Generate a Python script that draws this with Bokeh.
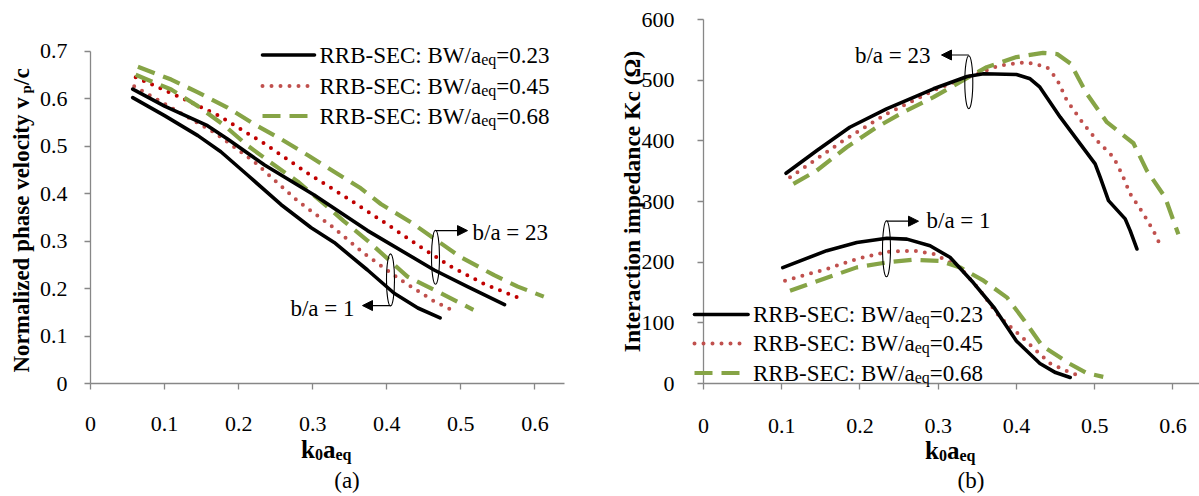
import numpy as np
from bokeh.plotting import figure
from bokeh.models import Label, Arrow, NormalHead, FixedTicker, NumeralTickFormatter, Range1d
from bokeh.layouts import row, column
from bokeh.embed import file_html
from bokeh.resources import INLINE

# ---------------- data: (a) normalized phase velocity ----------------
a_x_bw023_b23 = [0.057, 0.100, 0.158, 0.185, 0.235, 0.302, 0.374, 0.464, 0.509, 0.559]
a_y_bw023_b23 = [0.620, 0.584, 0.543, 0.515, 0.460, 0.397, 0.322, 0.239, 0.204, 0.166]
a_x_bw023_b1 = [0.057, 0.100, 0.145, 0.176, 0.212, 0.257, 0.298, 0.329, 0.374, 0.410, 0.442, 0.472]
a_y_bw023_b1 = [0.602, 0.564, 0.522, 0.488, 0.439, 0.377, 0.328, 0.297, 0.239, 0.190, 0.159, 0.138]
a_x_bw045_b23 = [0.061, 0.118, 0.172, 0.235, 0.295, 0.345, 0.397, 0.446, 0.487, 0.531, 0.577]
a_y_bw045_b23 = [0.645, 0.605, 0.565, 0.505, 0.441, 0.392, 0.339, 0.287, 0.246, 0.210, 0.181]
a_x_bw045_b1 = [0.059, 0.113, 0.167, 0.221, 0.280, 0.325, 0.370, 0.419, 0.464, 0.495]
a_y_bw045_b1 = [0.626, 0.577, 0.529, 0.467, 0.384, 0.332, 0.273, 0.218, 0.173, 0.149]
a_x_bw068_b23 = [0.064, 0.109, 0.145, 0.185, 0.221, 0.257, 0.293, 0.329, 0.365, 0.392, 0.433, 0.500, 0.545, 0.577, 0.612]
a_y_bw068_b23 = [0.667, 0.640, 0.613, 0.581, 0.546, 0.515, 0.481, 0.446, 0.411, 0.378, 0.339, 0.266, 0.228, 0.204, 0.183]
a_x_bw068_b1 = [0.061, 0.109, 0.145, 0.181, 0.212, 0.248, 0.280, 0.311, 0.342, 0.374, 0.428, 0.473, 0.517]
a_y_bw068_b1 = [0.650, 0.619, 0.584, 0.543, 0.501, 0.460, 0.425, 0.384, 0.342, 0.301, 0.225, 0.190, 0.155]

# ---------------- data: (b) interaction impedance ----------------
b_x_bw023_b23 = [0.1055, 0.145, 0.187, 0.234, 0.294, 0.337, 0.358, 0.400, 0.4175, 0.430, 0.456, 0.4815, 0.5006, 0.507, 0.5177, 0.539, 0.5454, 0.554]
b_y_bw023_b23 = [346.5, 384, 422.4, 452.8, 485.8, 506, 510.6, 509.4, 502.3, 488.4, 439, 395, 362, 340, 301.5, 271.3, 252, 221.8]
b_x_bw045_b23 = [0.1106, 0.179, 0.234, 0.294, 0.337, 0.379, 0.413, 0.439, 0.4517, 0.4645, 0.4857, 0.503, 0.524, 0.5348, 0.5454, 0.5624, 0.575, 0.5816]
b_y_bw045_b23 = [340, 400.5, 444.5, 483, 505, 524.3, 529.7, 521.5, 502, 466.5, 428, 400.5, 373, 345.5, 312.5, 279.5, 252, 234.3]
b_x_bw068_b23 = [0.1149, 0.1448, 0.183, 0.2215, 0.2555, 0.294, 0.3238, 0.362, 0.400, 0.434, 0.452, 0.469, 0.490, 0.5156, 0.5496, 0.5667, 0.590, 0.607]
b_y_bw068_b23 = [329, 351, 389.4, 422.4, 447.2, 472, 494, 521.5, 538, 545, 543, 527.6, 477.6, 430.7, 396, 351, 307, 246]
b_x_bw023_b1 = [0.1013, 0.1575, 0.196, 0.2343, 0.260, 0.2896, 0.315, 0.345, 0.372, 0.400, 0.430, 0.450, 0.4687]
b_y_bw023_b1 = [191, 219, 232.5, 239.5, 238, 227, 208, 166, 124, 70, 33, 18, 10]
b_x_bw045_b1 = [0.1042, 0.1575, 0.196, 0.2343, 0.268, 0.294, 0.328, 0.3536, 0.379, 0.404, 0.443, 0.470, 0.486]
b_y_bw045_b1 = [169.5, 188.8, 205.3, 217, 219, 213.5, 191.4, 153, 109, 80, 33, 17, 12]
b_x_bw068_b1 = [0.1106, 0.1532, 0.196, 0.2343, 0.268, 0.3025, 0.328, 0.358, 0.3877, 0.410, 0.433, 0.4675, 0.490, 0.511]
b_y_bw068_b1 = [153, 172.3, 191.4, 199.7, 204, 202, 191.4, 169.5, 142, 104, 62, 33, 17, 11]

# ---------------- labels / ticks ----------------
series_names = ["0.23", "0.45", "0.68"]
legend_prefix = "RRB-SEC: BW/a"
legend_sub = "eq"
x_ticks = [0, 0.1, 0.2, 0.3, 0.4, 0.5, 0.6]
a_y_ticks = [0, 0.1, 0.2, 0.3, 0.4, 0.5, 0.6, 0.7]
b_y_ticks = [0, 100, 200, 300, 400, 500, 600]
a_title = "Normalized phase velocity  v"
b_title = "Interaction impedance Kc (\u03a9)"

SERIF = "Liberation Serif"
AXIS_GRAY = "#878787"
BLACK = "#000000"
RED_A = "#C00000"
RED_B = "#C0504D"
GREEN = "#86A446"

solid = dict(line_color=BLACK, line_width=3.6, line_join="round", line_cap="round")
def dotted(c):
    return dict(line_color=c, line_width=4, line_dash="0 9", line_cap="round", line_join="round")
dashed = dict(line_color=GREEN, line_width=4.2, line_dash="18 9", line_cap="butt", line_join="round")


def make_fig(width, xr, yr, ybounds, ml, mr, mt, mb, yticks, yfmt, y_standoff, x_standoff):
    p = figure(width=width, height=496, x_range=Range1d(*xr), y_range=Range1d(*yr),
               output_backend="svg", toolbar_location=None,
               min_border_left=ml, min_border_right=mr, min_border_top=mt, min_border_bottom=mb)
    p.outline_line_color = None
    p.xgrid.visible = False
    p.ygrid.visible = False
    p.background_fill_color = "white"
    p.border_fill_color = "white"
    for ax in (p.xaxis[0], p.yaxis[0]):
        ax.axis_line_color = AXIS_GRAY
        ax.axis_line_width = 1.3
        ax.major_tick_line_color = AXIS_GRAY
        ax.major_tick_line_width = 1.3
        ax.major_tick_in = 0
        ax.major_tick_out = 6
        ax.minor_tick_line_color = None
        ax.major_label_text_font = SERIF
        ax.major_label_text_font_size = "22px"
        ax.major_label_text_color = "black"
    p.xaxis.ticker = FixedTicker(ticks=x_ticks)
    p.xaxis.formatter = NumeralTickFormatter(format="0.[0]")
    p.xaxis.major_label_standoff = x_standoff
    p.yaxis.ticker = FixedTicker(ticks=yticks)
    p.yaxis.formatter = NumeralTickFormatter(format=yfmt)
    p.yaxis.major_label_standoff = y_standoff
    p.yaxis.bounds = ybounds
    return p


def head_arrow(p, x0, y0, x1, y1):
    p.add_layout(Arrow(x_start=x0, y_start=y0, x_end=x1, y_end=y1, line_color="black", line_width=1.2,
                       end=NormalHead(size=10, fill_color="black", line_color="black")))


# ======================= figure (a) =======================
A_L, A_R, A_T, A_B = 90, 36, 19, 108
A_FH = 496 - A_T - A_B
A_YTOP = 0.7 * A_FH / 337.0
pa = make_fig(600, (0, 0.64), (0, A_YTOP), (0, 0.7), A_L, A_R, A_T, A_B, a_y_ticks, "0.[0]", 17, 27)
ax_ = lambda px: (px - A_L) / (600 - A_L - A_R) * 0.64
ay_ = lambda py: (496 - A_B - py) / A_FH * A_YTOP

pa.line(a_x_bw045_b23, a_y_bw045_b23, **dotted(RED_A))
pa.line(a_x_bw045_b1, a_y_bw045_b1, **dotted(RED_B))
pa.line(a_x_bw068_b23, a_y_bw068_b23, **dashed)
pa.line(a_x_bw068_b1, a_y_bw068_b1, **dashed)
pa.line(a_x_bw023_b23, a_y_bw023_b23, **solid)
pa.line(a_x_bw023_b1, a_y_bw023_b1, **solid)

pa.ellipse(x=[ax_(435), ax_(390)], y=[ay_(260), ay_(283)], width=8, height=[54, 52],
           width_units="screen", height_units="screen", fill_color=None, line_color="black", line_width=1.1)
head_arrow(pa, ax_(435), ay_(233), ax_(467), ay_(233))
head_arrow(pa, ax_(390), ay_(309), ax_(362), ay_(309))

# ======================= figure (b) =======================
B_L, B_R, B_T, B_B = 103, 0, 19, 113
pb = make_fig(599, (0, 0.634), (0, 600), (0, 600), B_L, B_R, B_T, B_B, b_y_ticks, "0", 23, 29)
bx_ = lambda px: (px - 600 - B_L) / (599 - B_L - B_R) * 0.634
by_ = lambda py: (496 - B_B - py) / (496 - B_T - B_B) * 600

pb.line(b_x_bw045_b23, b_y_bw045_b23, **dotted(RED_B))
pb.line(b_x_bw045_b1, b_y_bw045_b1, **dotted(RED_B))
pb.line(b_x_bw068_b23, b_y_bw068_b23, **dashed)
pb.line(b_x_bw068_b1, b_y_bw068_b1, **dashed)
pb.line(b_x_bw023_b23, b_y_bw023_b23, **solid)
pb.line(b_x_bw023_b1, b_y_bw023_b1, **solid)

pb.ellipse(x=[bx_(968.3), bx_(886)], y=[by_(81.7), by_(248.3)], width=8, height=[53, 56],
           width_units="screen", height_units="screen", fill_color=None, line_color="black", line_width=1.1)
head_arrow(pb, bx_(968.3), by_(54.5), bx_(941), by_(54.5))
head_arrow(pb, bx_(886), by_(220.7), bx_(918), by_(220.7))

# ======================= text overlay (page pixel coordinates) =======================
po = figure(width=1199, height=496, x_range=Range1d(0, 1199), y_range=Range1d(496, 0),
            x_axis_location=None, y_axis_location=None, toolbar_location=None, output_backend="svg",
            min_border=0, margin=(-496, 0, 0, 0))
po.outline_line_color = None
po.background_fill_alpha = 0
po.border_fill_alpha = 0
po.grid.visible = False


def txt(x, y, t, size, bold=False, align="left", angle=0):
    po.add_layout(Label(x=x, y=y, text=t, text_font=SERIF, text_font_size=f"{size}px",
                        text_font_style="bold" if bold else "normal", text_color="black",
                        text_align=align, text_baseline="middle", angle=angle))


# legend samples + texts
styles = [solid, dotted(RED_B), dashed]
for (sx0, sx1, tx, rows) in [(262, 314, 319, [54.5, 85.5, 115.5]), (694, 747.6, 752.5, [314, 343, 372.5])]:
    for name, st, r in zip(series_names, styles, rows):
        po.segment(x0=[sx0], y0=[r], x1=[sx1], y1=[r], **st)
        txt(tx, r, legend_prefix, 23)
        txt(tx + 161.7, r + 4, legend_sub, 16)
        txt(tx + 176.8, r, "=" + name, 23)

# annotation texts
txt(472, 232, "b/a = 23", 23)
txt(354, 308, "b/a = 1", 23, align="right")
txt(930, 55, "b/a = 23", 23, align="right")
txt(926, 220, "b/a = 1", 23)

# axis titles
for (x0, yc, cap) in [(300.5, 449, "(a)"), (924.5, 450, "(b)")]:
    txt(x0, yc, "k", 25, bold=True)
    txt(x0 + 13.9, yc + 5, "0", 16, bold=True)
    txt(x0 + 21.9, yc, "a", 25, bold=True)
    txt(x0 + 34.4, yc + 5, "eq", 16, bold=True)
    txt(x0 + 46, 480, cap, 23, align="center")

# y title (a): anchored around the subscript
txt(21, 91, a_title, 23, bold=True, align="right", angle=np.pi / 2)
txt(25.5, 93, "p", 15, bold=True, angle=np.pi / 2)
txt(21, 84.5, "/c", 23, bold=True, angle=np.pi / 2)
txt(631, 201, b_title, 23.5, bold=True, align="center", angle=np.pi / 2)

layout = column(row(pa, pb), po)
open("out.html", "w").write(file_html(layout, INLINE))
